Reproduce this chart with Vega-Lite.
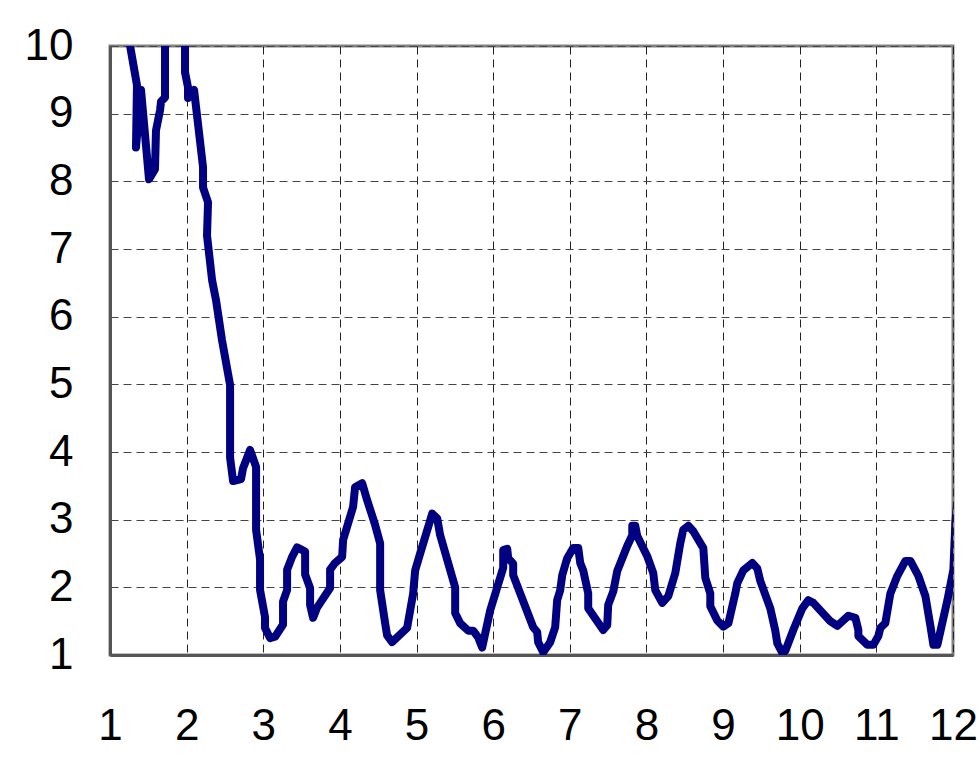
{
  "$schema": "https://vega.github.io/schema/vega-lite/v6.json",
  "width": 843,
  "height": 609,
  "autosize": {"type": "none"},
  "padding": {"left": 110, "top": 46, "right": 27, "bottom": 107},
  "background": "white",
  "config": {
    "view": {"stroke": "#808080", "strokeWidth": 3},
    "font": "Liberation Sans"
  },
  "data": {
    "values": [
      {"i": 1, "x": 1.227, "y": 10.23},
      {"i": 2, "x": 1.352, "y": 9.42},
      {"i": 3, "x": 1.339, "y": 8.5},
      {"i": 4, "x": 1.405, "y": 9.35},
      {"i": 5, "x": 1.509, "y": 8.03},
      {"i": 6, "x": 1.587, "y": 8.18},
      {"i": 7, "x": 1.6, "y": 8.75},
      {"i": 8, "x": 1.653, "y": 9.05},
      {"i": 9, "x": 1.666, "y": 9.18},
      {"i": 10, "x": 1.718, "y": 9.24},
      {"i": 11, "x": 1.718, "y": 10.23},
      {"i": 12, "x": 1.8, "y": 11.0},
      {"i": 13, "x": 1.979, "y": 10.23},
      {"i": 14, "x": 1.979, "y": 9.61},
      {"i": 15, "x": 2.018, "y": 9.39},
      {"i": 16, "x": 2.018, "y": 9.23},
      {"i": 17, "x": 2.097, "y": 9.35},
      {"i": 18, "x": 2.214, "y": 8.21},
      {"i": 19, "x": 2.214, "y": 7.91},
      {"i": 20, "x": 2.279, "y": 7.69},
      {"i": 21, "x": 2.266, "y": 7.2},
      {"i": 22, "x": 2.332, "y": 6.54},
      {"i": 23, "x": 2.384, "y": 6.24},
      {"i": 24, "x": 2.462, "y": 5.65},
      {"i": 25, "x": 2.567, "y": 4.99},
      {"i": 26, "x": 2.567, "y": 3.92},
      {"i": 27, "x": 2.606, "y": 3.57},
      {"i": 28, "x": 2.71, "y": 3.6},
      {"i": 29, "x": 2.736, "y": 3.76},
      {"i": 30, "x": 2.828, "y": 4.03},
      {"i": 31, "x": 2.906, "y": 3.78},
      {"i": 32, "x": 2.906, "y": 2.85},
      {"i": 33, "x": 2.958, "y": 2.41},
      {"i": 34, "x": 2.958, "y": 1.96},
      {"i": 35, "x": 3.023, "y": 1.56},
      {"i": 36, "x": 3.023, "y": 1.4},
      {"i": 37, "x": 3.089, "y": 1.25},
      {"i": 38, "x": 3.154, "y": 1.27},
      {"i": 39, "x": 3.258, "y": 1.45},
      {"i": 40, "x": 3.258, "y": 1.79},
      {"i": 41, "x": 3.311, "y": 1.96},
      {"i": 42, "x": 3.311, "y": 2.26},
      {"i": 43, "x": 3.376, "y": 2.45},
      {"i": 44, "x": 3.441, "y": 2.59},
      {"i": 45, "x": 3.546, "y": 2.53},
      {"i": 46, "x": 3.546, "y": 2.19},
      {"i": 47, "x": 3.611, "y": 1.99},
      {"i": 48, "x": 3.611, "y": 1.74},
      {"i": 49, "x": 3.65, "y": 1.55},
      {"i": 50, "x": 3.702, "y": 1.7},
      {"i": 51, "x": 3.872, "y": 1.99},
      {"i": 52, "x": 3.872, "y": 2.26},
      {"i": 53, "x": 3.937, "y": 2.36},
      {"i": 54, "x": 4.029, "y": 2.45},
      {"i": 55, "x": 4.042, "y": 2.7},
      {"i": 56, "x": 4.172, "y": 3.19},
      {"i": 57, "x": 4.198, "y": 3.48},
      {"i": 58, "x": 4.29, "y": 3.54},
      {"i": 59, "x": 4.355, "y": 3.29},
      {"i": 60, "x": 4.46, "y": 2.92},
      {"i": 61, "x": 4.525, "y": 2.65},
      {"i": 62, "x": 4.525, "y": 1.96},
      {"i": 63, "x": 4.59, "y": 1.47},
      {"i": 64, "x": 4.616, "y": 1.29},
      {"i": 65, "x": 4.681, "y": 1.19},
      {"i": 66, "x": 4.877, "y": 1.4},
      {"i": 67, "x": 4.956, "y": 1.91},
      {"i": 68, "x": 4.982, "y": 2.25},
      {"i": 69, "x": 5.047, "y": 2.5},
      {"i": 70, "x": 5.178, "y": 2.99},
      {"i": 71, "x": 5.204, "y": 3.09},
      {"i": 72, "x": 5.269, "y": 3.02},
      {"i": 73, "x": 5.308, "y": 2.77},
      {"i": 74, "x": 5.504, "y": 2.0},
      {"i": 75, "x": 5.504, "y": 1.62},
      {"i": 76, "x": 5.569, "y": 1.47},
      {"i": 77, "x": 5.674, "y": 1.36},
      {"i": 78, "x": 5.739, "y": 1.36},
      {"i": 79, "x": 5.804, "y": 1.26},
      {"i": 80, "x": 5.856, "y": 1.11},
      {"i": 81, "x": 5.896, "y": 1.32},
      {"i": 82, "x": 5.961, "y": 1.66},
      {"i": 83, "x": 6.131, "y": 2.29},
      {"i": 84, "x": 6.131, "y": 2.55},
      {"i": 85, "x": 6.183, "y": 2.57},
      {"i": 86, "x": 6.196, "y": 2.43},
      {"i": 87, "x": 6.261, "y": 2.35},
      {"i": 88, "x": 6.261, "y": 2.18},
      {"i": 89, "x": 6.522, "y": 1.41},
      {"i": 90, "x": 6.574, "y": 1.34},
      {"i": 91, "x": 6.587, "y": 1.19},
      {"i": 92, "x": 6.653, "y": 1.04},
      {"i": 93, "x": 6.744, "y": 1.19},
      {"i": 94, "x": 6.809, "y": 1.41},
      {"i": 95, "x": 6.835, "y": 1.81},
      {"i": 96, "x": 6.875, "y": 1.96},
      {"i": 97, "x": 6.901, "y": 2.18},
      {"i": 98, "x": 6.966, "y": 2.43},
      {"i": 99, "x": 7.044, "y": 2.58},
      {"i": 100, "x": 7.11, "y": 2.58},
      {"i": 101, "x": 7.136, "y": 2.36},
      {"i": 102, "x": 7.175, "y": 2.25},
      {"i": 103, "x": 7.24, "y": 1.91},
      {"i": 104, "x": 7.24, "y": 1.69},
      {"i": 105, "x": 7.332, "y": 1.54},
      {"i": 106, "x": 7.436, "y": 1.37},
      {"i": 107, "x": 7.488, "y": 1.44},
      {"i": 108, "x": 7.501, "y": 1.74},
      {"i": 109, "x": 7.567, "y": 1.94},
      {"i": 110, "x": 7.619, "y": 2.24},
      {"i": 111, "x": 7.749, "y": 2.61},
      {"i": 112, "x": 7.815, "y": 2.77},
      {"i": 113, "x": 7.815, "y": 2.91},
      {"i": 114, "x": 7.854, "y": 2.91},
      {"i": 115, "x": 7.88, "y": 2.76},
      {"i": 116, "x": 8.01, "y": 2.46},
      {"i": 117, "x": 8.089, "y": 2.21},
      {"i": 118, "x": 8.115, "y": 1.96},
      {"i": 119, "x": 8.206, "y": 1.77},
      {"i": 120, "x": 8.285, "y": 1.87},
      {"i": 121, "x": 8.376, "y": 2.21},
      {"i": 122, "x": 8.441, "y": 2.65},
      {"i": 123, "x": 8.48, "y": 2.85},
      {"i": 124, "x": 8.546, "y": 2.91},
      {"i": 125, "x": 8.611, "y": 2.83},
      {"i": 126, "x": 8.742, "y": 2.58},
      {"i": 127, "x": 8.768, "y": 2.14},
      {"i": 128, "x": 8.833, "y": 1.91},
      {"i": 129, "x": 8.833, "y": 1.72},
      {"i": 130, "x": 8.924, "y": 1.51},
      {"i": 131, "x": 9.003, "y": 1.42},
      {"i": 132, "x": 9.07, "y": 1.47},
      {"i": 133, "x": 9.159, "y": 1.91},
      {"i": 134, "x": 9.185, "y": 2.06},
      {"i": 135, "x": 9.264, "y": 2.25},
      {"i": 136, "x": 9.381, "y": 2.36},
      {"i": 137, "x": 9.446, "y": 2.28},
      {"i": 138, "x": 9.486, "y": 2.09},
      {"i": 139, "x": 9.616, "y": 1.69},
      {"i": 140, "x": 9.681, "y": 1.36},
      {"i": 141, "x": 9.708, "y": 1.17},
      {"i": 142, "x": 9.773, "y": 1.03},
      {"i": 143, "x": 9.812, "y": 1.06},
      {"i": 144, "x": 9.916, "y": 1.37},
      {"i": 145, "x": 10.034, "y": 1.69},
      {"i": 146, "x": 10.112, "y": 1.81},
      {"i": 147, "x": 10.178, "y": 1.77},
      {"i": 148, "x": 10.399, "y": 1.5},
      {"i": 149, "x": 10.491, "y": 1.43},
      {"i": 150, "x": 10.635, "y": 1.58},
      {"i": 151, "x": 10.726, "y": 1.55},
      {"i": 152, "x": 10.765, "y": 1.37},
      {"i": 153, "x": 10.765, "y": 1.28},
      {"i": 154, "x": 10.883, "y": 1.15},
      {"i": 155, "x": 10.961, "y": 1.15},
      {"i": 156, "x": 11.026, "y": 1.28},
      {"i": 157, "x": 11.052, "y": 1.4},
      {"i": 158, "x": 11.117, "y": 1.47},
      {"i": 159, "x": 11.183, "y": 1.91},
      {"i": 160, "x": 11.274, "y": 2.17},
      {"i": 161, "x": 11.379, "y": 2.39},
      {"i": 162, "x": 11.444, "y": 2.39},
      {"i": 163, "x": 11.548, "y": 2.17},
      {"i": 164, "x": 11.64, "y": 1.87},
      {"i": 165, "x": 11.705, "y": 1.43},
      {"i": 166, "x": 11.744, "y": 1.15},
      {"i": 167, "x": 11.796, "y": 1.15},
      {"i": 168, "x": 11.927, "y": 1.81},
      {"i": 169, "x": 12.005, "y": 2.26},
      {"i": 170, "x": 12.031, "y": 2.96},
      {"i": 171, "x": 12.07, "y": 3.46}
    ]
  },
  "mark": {
    "type": "line",
    "color": "#000080",
    "strokeWidth": 8,
    "strokeCap": "round",
    "strokeJoin": "round",
    "clip": true
  },
  "encoding": {
    "order": {"field": "i", "type": "quantitative"},
    "x": {
      "field": "x",
      "type": "quantitative",
      "scale": {"domain": [1, 12], "nice": false, "zero": false},
      "axis": {
        "values": [1, 2, 3, 4, 5, 6, 7, 8, 9, 10, 11, 12],
        "title": null,
        "grid": true,
        "gridDash": [8, 5],
        "gridColor": "#222222",
        "gridWidth": 1,
        "gridOpacity": 1,
        "ticks": false,
        "domainColor": "#555555",
        "domainWidth": 3,
        "labelFontSize": 44,
        "labelFont": "Liberation Sans",
        "labelColor": "#000000",
        "labelPadding": 49,
        "labelFlush": false,
        "labelOverlap": false
      }
    },
    "y": {
      "field": "y",
      "type": "quantitative",
      "scale": {"domain": [1, 10], "nice": false, "zero": false},
      "axis": {
        "values": [1, 2, 3, 4, 5, 6, 7, 8, 9, 10],
        "title": null,
        "grid": true,
        "gridDash": [8, 5],
        "gridColor": "#444444",
        "gridWidth": 1,
        "gridOpacity": 1,
        "ticks": false,
        "domainColor": "#555555",
        "domainWidth": 3,
        "labelFontSize": 44,
        "labelFont": "Liberation Sans",
        "labelColor": "#000000",
        "labelPadding": 37,
        "labelFlush": false,
        "labelOverlap": false,
        "labelBaseline": "middle"
      }
    }
  }
}
